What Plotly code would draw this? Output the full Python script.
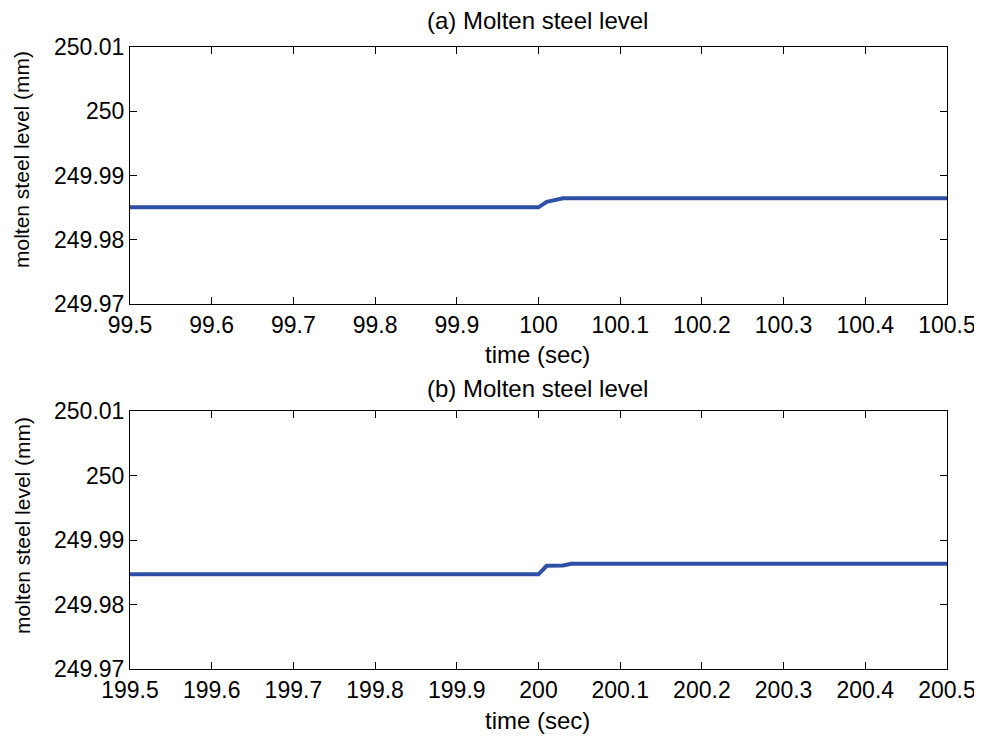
import plotly.graph_objects as go

# data
t_a = [99.5, 100.0, 100.01, 100.03, 100.5]
lvl_a = [249.98505, 249.98505, 249.9859, 249.98645, 249.98645]
t_b = [199.5, 200.0, 200.01, 200.03, 200.04, 200.5]
lvl_b = [249.98468, 249.98468, 249.9860, 249.98605, 249.98630, 249.98630]

yticks = [249.97, 249.98, 249.99, 250.0, 250.01]
ytext = ["249.97", "249.98", "249.99", "250", "250.01"]
xticks_a = [99.5, 99.6, 99.7, 99.8, 99.9, 100.0, 100.1, 100.2, 100.3, 100.4, 100.5]
xticks_b = [199.5, 199.6, 199.7, 199.8, 199.9, 200.0, 200.1, 200.2, 200.3, 200.4, 200.5]

OFF = 8  # page body margin
W, H = 982 - OFF, 737 - OFF
line_color = "#2F4FA6"
fam = "Liberation Sans, Arial, sans-serif"
font = dict(family=fam, size=23, color="black")

def px(x):
    return (x - OFF) / W

def py(y):
    return 1 - (y - OFF) / H

fig = go.Figure()
fig.add_trace(go.Scatter(x=t_a, y=lvl_a, mode="lines", line=dict(color=line_color, width=4),
                         xaxis="x", yaxis="y", showlegend=False))
fig.add_trace(go.Scatter(x=t_b, y=lvl_b, mode="lines", line=dict(color=line_color, width=4),
                         xaxis="x2", yaxis="y2", showlegend=False))

top_dom = [py(304), py(47)]
bot_dom = [py(669), py(411)]
xdom = [px(130), px(947)]

common_x = dict(showline=True, linecolor="black", linewidth=1, mirror="allticks", ticks="inside",
                ticklen=7, tickcolor="black", showgrid=False, zeroline=False,
                tickfont=font, domain=xdom, automargin=False)
common_y = dict(showline=True, linecolor="black", linewidth=1, mirror="allticks", ticks="inside",
                ticklen=7, tickcolor="black", showgrid=False, zeroline=False, automargin=False,
                tickfont=font, range=[249.97, 250.01], tickvals=yticks, ticktext=ytext)

fig.update_layout(
    width=W, height=H, autosize=False,
    margin=dict(l=0, r=0, t=0, b=0, pad=0),
    paper_bgcolor="white", plot_bgcolor="white", font=font,
    xaxis=dict(common_x, range=[99.5, 100.5], tickvals=xticks_a,
               ticktext=[f"{v:g}" for v in xticks_a], anchor="y"),
    yaxis=dict(common_y, domain=top_dom, anchor="x"),
    xaxis2=dict(common_x, range=[199.5, 200.5], tickvals=xticks_b,
                ticktext=[f"{v:g}" for v in xticks_b], anchor="y2"),
    yaxis2=dict(common_y, domain=bot_dom, anchor="x2"),
)

ann = []
def a(text, x, y, size=22, angle=0):
    ann.append(dict(text=text, x=px(x), y=py(y), xref="paper", yref="paper",
                    showarrow=False, font=dict(family=fam, size=size, color="black"),
                    textangle=angle, xanchor="center", yanchor="middle"))

a("(a) Molten steel level", 537, 21, size=24)
a("time (sec)", 537, 354, size=24)
a("(b) Molten steel level", 537, 388, size=24)
a("time (sec)", 537, 720, size=24)
a("molten steel level (mm)", 22, 160, size=21, angle=-90)
a("molten steel level (mm)", 22, 526, size=21, angle=-90)
fig.update_layout(annotations=ann)

fig.write_html("out.html")
